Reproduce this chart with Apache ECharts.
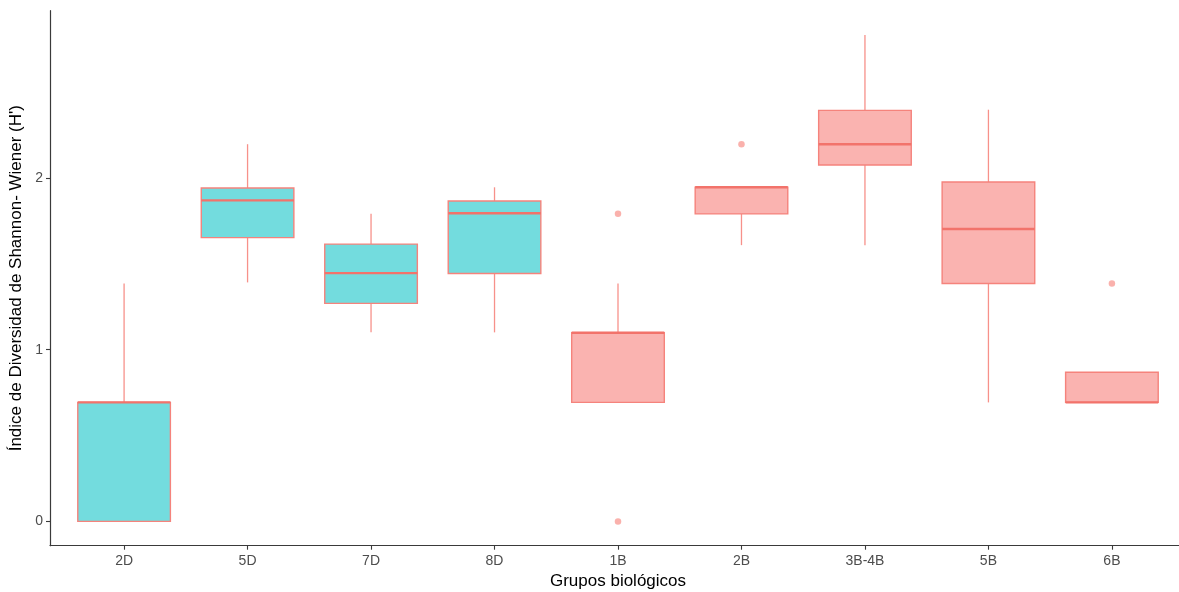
<!DOCTYPE html>
<html>
<head>
<meta charset="utf-8">
<script src="https://cdn.jsdelivr.net/npm/echarts@6/dist/echarts.min.js"></script>
<style>
  html, body { margin: 0; padding: 0; background: #ffffff; }
  #chart { width: 1179px; height: 592px; }
</style>
</head>
<body>
<div id="chart"></div>
<script>
// Shannon-Wiener diversity by biological group
const categories = ['2D', '5D', '7D', '8D', '1B', '2B', '3B-4B', '5B', '6B'];
const groupType  = ['D', 'D', 'D', 'D', 'B', 'B', 'B', 'B', 'B'];

const lowerWhisker = [0.000, 1.392, 1.101, 1.101, 0.693, 1.609, 1.609, 0.693, 0.693];
const q1Values     = [0.000, 1.653, 1.270, 1.444, 0.693, 1.791, 2.076, 1.386, 0.693];
const medians      = [0.693, 1.870, 1.446, 1.795, 1.099, 1.946, 2.197, 1.703, 0.693];
const q3Values     = [0.693, 1.942, 1.615, 1.866, 1.099, 1.946, 2.394, 1.977, 0.869];
const upperWhisker = [1.386, 2.197, 1.792, 1.946, 1.386, 1.946, 2.833, 2.398, 0.869];

// outlying points: [category index, value]
const outlierGroup  = [4, 4, 5, 8];
const outlierValues = [1.792, 0.000, 2.197, 1.386];

const yTicks = [0, 1, 2];

const TEAL = '#73DCDE';
const PINK = '#FAB3B0';
const BORDER = '#F5837C';
const MEDIAN = '#F2736B';
const WHISKER = '#F7918A';
const BOX_WIDTH = 0.75;

// continuous axis padding like a discrete scale (0.6 on both sides) and 5% on y
const dataMax = Math.max(...upperWhisker, ...outlierValues);
const dataMin = Math.min(...lowerWhisker, ...outlierValues);
const yPad = (dataMax - dataMin) * 0.05;

const boxRows = categories.map((c, i) => [i + 1, lowerWhisker[i], q1Values[i], medians[i], q3Values[i], upperWhisker[i]]);
const outlierRows = outlierGroup.map((g, i) => [g + 1, outlierValues[i]]);
const xPositions = categories.map((c, i) => i + 1);

const chart = echarts.init(document.getElementById('chart'), null, { renderer: 'canvas' });

chart.setOption({
  animation: false,
  backgroundColor: '#ffffff',
  grid: { left: 50, top: 10.7, width: 1136, height: 535, outerBoundsMode: 'none', containLabel: false },
  xAxis: {
    type: 'value',
    min: 0.4,
    max: categories.length + 0.6,
    name: 'Grupos biológicos',
    nameLocation: 'middle',
    nameGap: 27,
    nameTextStyle: { color: '#000000', fontSize: 17, fontFamily: 'Liberation Sans, Arial, sans-serif' },
    axisLine: { onZero: false, lineStyle: { color: '#3a3a3a', width: 1.2 } },
    axisTick: { customValues: xPositions, length: 4, lineStyle: { color: '#3a3a3a', width: 1.1 } },
    axisLabel: {
      customValues: xPositions,
      formatter: v => categories[Math.round(v) - 1] || '',
      color: '#4d4d4d',
      fontSize: 14,
      margin: 8,
      fontFamily: 'Liberation Sans, Arial, sans-serif'
    },
    splitLine: { show: false }
  },
  yAxis: {
    type: 'value',
    min: dataMin - yPad,
    max: dataMax + yPad,
    name: "Índice de Diversidad de Shannon- Wiener (H')",
    nameLocation: 'middle',
    nameGap: 18,
    nameTextStyle: { color: '#000000', fontSize: 17, fontFamily: 'Liberation Sans, Arial, sans-serif' },
    axisLine: { show: true, onZero: false, lineStyle: { color: '#3a3a3a', width: 1.2 } },
    axisTick: { show: true, customValues: yTicks, length: 4, lineStyle: { color: '#3a3a3a', width: 1.1 } },
    axisLabel: {
      customValues: yTicks,
      color: '#4d4d4d',
      fontSize: 14,
      margin: 7,
      fontFamily: 'Liberation Sans, Arial, sans-serif'
    },
    splitLine: { show: false }
  },
  series: [
    {
      type: 'custom',
      clip: false,
      data: boxRows,
      encode: { x: 0, y: [1, 2, 3, 4, 5] },
      renderItem: function (params, api) {
        const x = api.value(0);
        const pLo = api.coord([x, api.value(1)]);
        const pQ1 = api.coord([x, api.value(2)]);
        const pMd = api.coord([x, api.value(3)]);
        const pQ3 = api.coord([x, api.value(4)]);
        const pHi = api.coord([x, api.value(5)]);
        const half = api.size([BOX_WIDTH, 0])[0] / 2;
        const cx = pMd[0];
        const fill = groupType[params.dataIndex] === 'D' ? TEAL : PINK;
        return {
          type: 'group',
          children: [
            { type: 'line', shape: { x1: cx, y1: pHi[1], x2: cx, y2: pQ3[1] }, style: { stroke: WHISKER, lineWidth: 1.3 } },
            { type: 'line', shape: { x1: cx, y1: pQ1[1], x2: cx, y2: pLo[1] }, style: { stroke: WHISKER, lineWidth: 1.3 } },
            { type: 'rect', shape: { x: cx - half, y: pQ3[1], width: half * 2, height: pQ1[1] - pQ3[1] },
              style: { fill: fill, stroke: BORDER, lineWidth: 1.4 } },
            { type: 'line', shape: { x1: cx - half, y1: pMd[1], x2: cx + half, y2: pMd[1] }, style: { stroke: MEDIAN, lineWidth: 2.4 } }
          ]
        };
      }
    },
    {
      type: 'scatter',
      data: outlierRows,
      symbol: 'circle',
      symbolSize: 6.5,
      itemStyle: { color: '#F99D97' },
      clip: false
    }
  ]
});
</script>
</body>
</html>
